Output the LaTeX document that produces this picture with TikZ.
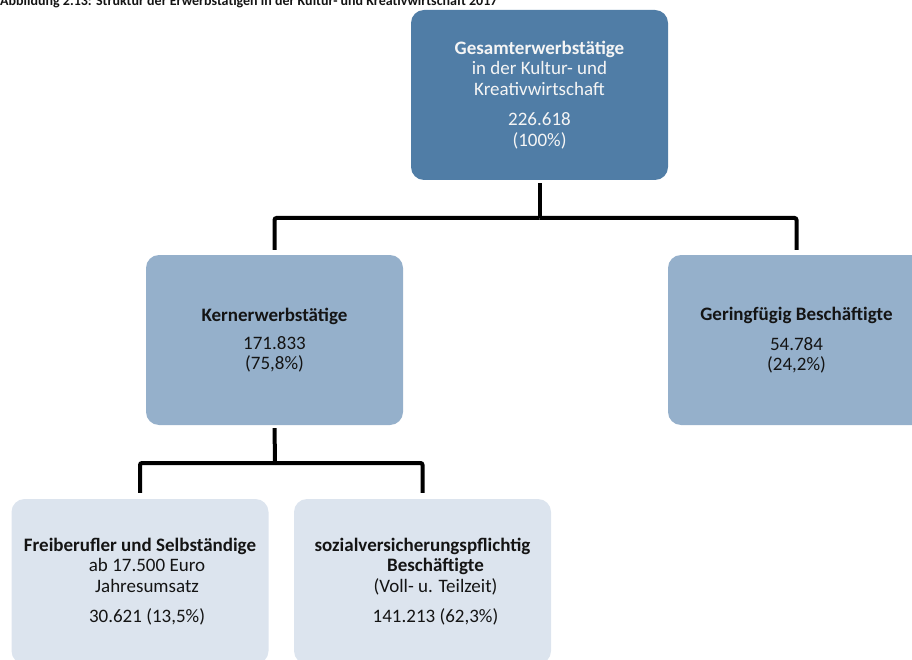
\documentclass[tikz,border=0pt]{standalone}
\usepackage{fontspec}
\setmainfont{Carlito}
\definecolor{topc}{RGB}{80,125,166}
\definecolor{midc}{RGB}{149,176,203}
\definecolor{lowc}{RGB}{220,228,238}
\definecolor{toptext}{RGB}{245,245,245}
\definecolor{bodytext}{RGB}{20,20,20}
\begin{document}
\begin{tikzpicture}[x=1pt,y=-1pt,
  box/.style={rectangle, rounded corners=13pt, inner sep=0pt, align=center,
    minimum width=257pt, minimum height=170pt,
    font=\fontsize{19}{20.5}\selectfont, text=bodytext},
  topbox/.style={box, fill=topc, text=toptext},
  midbox/.style={box, fill=midc},
  lowbox/.style={box, fill=lowc, minimum height=165pt},
  conn/.style={draw=black, line width=4pt, rounded corners=2pt},
  titletext/.style={font=\fontsize{14}{16}\selectfont\bfseries, text=bodytext, inner sep=0pt}]
\useasboundingbox (0,0) rectangle (912,660);
\clip (0,0) rectangle (912,660);

\node[titletext, anchor=base west] (title) at (0,6)
  {Abbildung 2.13: Struktur der Erwerbstätigen in der Kultur- und Kreativwirtschaft 2017};

\node[topbox] (top) at (539.5,95)
  {\textbf{Gesamterwerbstätige}\\ in der Kultur- und\\ Kreativwirtschaft\\[10pt] 226.618\\ (100\%)};
\node[midbox] (kern) at (274.5,340)
  {\textbf{Kernerwerbstätige}\\[7.5pt] 171.833\\ (75,8\%)};
\node[midbox] (gering) at (796.5,340)
  {\textbf{Geringfügig Beschäftigte}\\[9.5pt] 54.784\\ (24,2\%)};
\node[lowbox] (frei) at (140,581.5)
  {\textbf{Freiberufler und Selbständige}\\ \hspace*{14pt}ab 17.500 Euro\\ \hspace*{14pt}Jahresumsatz\\[9.5pt] \hspace*{14pt}30.621 (13,5\%)};
\node[lowbox] (sozial) at (422.5,581.5)
  {\textbf{sozialversicherungspflichtig}\\ \hspace*{26pt}\textbf{Beschäftigte}\\ \hspace*{26pt}(Voll- u. Teilzeit)\\[9.5pt] \hspace*{26pt}141.213 (62,3\%)};

\coordinate (j1) at (539.5,218);
\coordinate (j2) at (275,463);
\draw[conn, shorten <=3pt] (top.south) -- (j1);
\draw[conn, shorten >=5pt] (j1) -| (kern.north);
\draw[conn, shorten >=5pt] (j1) -| (gering.north);
\draw[conn, shorten <=3pt] (kern.south) -- (j2);
\draw[conn, shorten >=6pt] (j2) -| (frei.north);
\draw[conn, shorten >=6pt] (j2) -| (sozial.north);
\end{tikzpicture}
\end{document}
